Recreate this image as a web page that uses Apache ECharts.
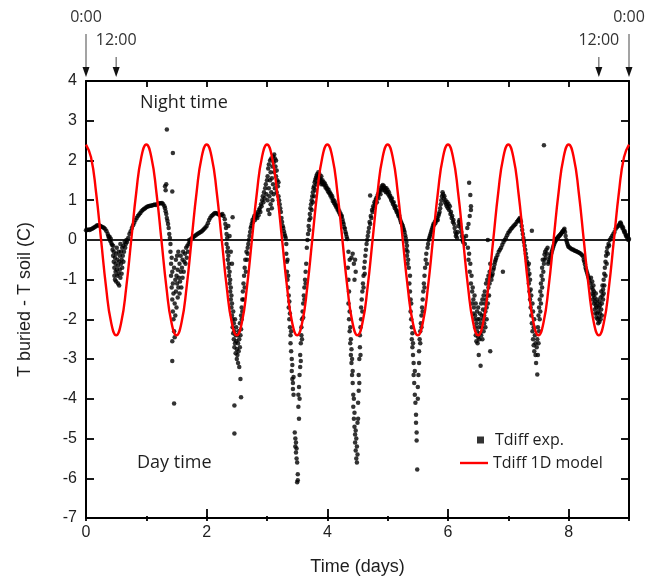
<!DOCTYPE html>
<html>
<head>
<meta charset="utf-8">
<script src="https://cdn.jsdelivr.net/npm/echarts@6/dist/echarts.min.js"></script>
<style>
  html, body { margin: 0; padding: 0; background: #ffffff; }
  #chart { width: 645px; height: 581px; }
</style>
</head>
<body>
<div id="chart"></div>
<script>
// Measured temperature difference (buried minus soil), [time in days, deg C]
const expDay0 = [
  [0.00,0.24],[0.02,0.25],[0.04,0.26],[0.06,0.25],[0.08,0.27],[0.10,0.28],[0.12,0.30],[0.14,0.32],[0.16,0.34],[0.18,0.36],
  [0.20,0.37],[0.22,0.36],[0.24,0.35],[0.26,0.33],[0.28,0.32],[0.30,0.30],[0.32,0.27],[0.34,0.22],[0.36,0.15],[0.37,0.10],
  [0.38,0.05],[0.39,0.08],[0.40,-0.02],[0.41,0.03],[0.42,-0.08],[0.43,-0.12],
  [0.44,-0.25],[0.45,-0.4],[0.45,-0.15],[0.46,-0.55],[0.46,-0.3],[0.47,-0.7],[0.47,-0.9],[0.48,-0.45],[0.48,-1.0],[0.49,-0.8],
  [0.49,-0.6],[0.50,-0.35],[0.50,-1.05],[0.51,-0.75],[0.51,-0.2],[0.52,-0.9],[0.52,-0.5],[0.53,-1.1],[0.53,-0.65],[0.54,-0.3],
  [0.54,-0.85],[0.55,-1.15],[0.55,-0.55],[0.56,-0.75],[0.56,-0.4],[0.57,-0.95],[0.57,-0.1],[0.58,-0.6],[0.58,-0.3],[0.59,-0.85],
  [0.59,-0.5],[0.60,-0.2],[0.60,-0.7],[0.61,-0.4],[0.62,-0.15],[0.62,-0.55],[0.63,-0.3],[0.64,-0.05],[0.65,-0.2],[0.66,-0.1],
  [0.67,0.0],[0.68,-0.05],
  [0.70,0.05],[0.72,0.15],[0.74,0.22],[0.76,0.3],[0.78,0.37],[0.80,0.43],[0.82,0.5],[0.84,0.55],[0.86,0.6],[0.88,0.64],
  [0.90,0.68],[0.92,0.72],[0.94,0.75],[0.96,0.78],[0.98,0.8]
];
const expDay1 = [
  [1.00,0.82],[1.02,0.84],[1.04,0.85],[1.06,0.86],[1.08,0.86],[1.10,0.87],[1.12,0.88],[1.14,0.89],[1.16,0.88],[1.18,0.9],
  [1.20,0.91],[1.22,0.92],[1.24,0.92],[1.26,0.93],[1.28,0.9],[1.30,0.85],
  [1.31,0.8],[1.32,0.72],[1.33,0.65],[1.34,0.55],[1.35,0.48],[1.36,0.4],[1.37,0.3],[1.38,0.15],[1.39,0.05],[1.40,-0.1],
  [1.34,2.78],[1.44,2.19],[1.31,1.35],[1.32,1.25],[1.33,1.4],[1.43,1.22],
  [1.40,-0.3],[1.41,-0.6],[1.41,-0.9],[1.42,-1.2],[1.42,-0.45],[1.43,-1.5],[1.43,-0.8],[1.44,-1.8],[1.44,-1.1],[1.45,-2.0],
  [1.45,-1.35],[1.46,-2.3],[1.46,-0.7],[1.47,-1.6],[1.47,-2.45],[1.48,-1.0],[1.48,-1.9],[1.49,-0.5],[1.49,-1.3],[1.50,-0.9],
  [1.50,-1.7],[1.51,-1.1],[1.51,-0.4],[1.52,-1.45],[1.52,-0.75],[1.53,-1.2],[1.53,-0.3],[1.54,-0.95],[1.55,-1.35],[1.55,-0.6],
  [1.56,-1.05],[1.57,-0.8],[1.57,-0.4],[1.58,-1.2],[1.59,-0.7],[1.60,-0.95],[1.60,-0.5],[1.61,-0.3],[1.62,-0.8],[1.63,-0.55],
  [1.64,-0.35],[1.65,-0.6],[1.66,-0.2],[1.67,-0.45],[1.68,-0.15],[1.69,-0.3],[1.70,-0.1],[1.71,0.0],[1.72,-0.05],
  [1.43,-2.55],[1.43,-3.05],[1.46,-4.12],
  [1.74,0.02],[1.76,0.05],[1.78,0.07],[1.80,0.1],[1.82,0.12],[1.84,0.14],[1.86,0.16],[1.88,0.18],[1.90,0.2],[1.92,0.22],
  [1.94,0.25],[1.96,0.28],[1.98,0.31]
];
const expDay2 = [
  [2.00,0.35],[2.02,0.42],[2.04,0.5],[2.06,0.56],[2.08,0.6],[2.10,0.63],[2.12,0.66],[2.14,0.68],[2.16,0.67],[2.18,0.66],
  [2.20,0.64],[2.22,0.62],[2.24,0.63],[2.26,0.65],[2.28,0.6],[2.30,0.52],[2.31,0.4],[2.32,0.3],[2.33,0.15],[2.43,0.57],
  [2.36,0.35],[2.38,0.1],
  [2.33,-0.1],[2.34,-0.3],[2.34,0.05],[2.35,-0.5],[2.35,-0.2],[2.36,-0.7],[2.36,-0.4],[2.37,-0.9],[2.37,-0.6],[2.38,-1.1],
  [2.38,-0.8],[2.39,-1.3],[2.39,-1.0],[2.40,-1.5],[2.40,-1.2],[2.41,-1.7],[2.41,-1.4],[2.42,-1.9],[2.42,-1.6],[2.43,-2.0],
  [2.43,-2.2],[2.44,-1.8],[2.44,-2.35],[2.45,-2.1],[2.45,-2.5],[2.46,-2.3],[2.46,-2.7],[2.47,-2.0],[2.47,-2.6],[2.48,-2.4],
  [2.48,-2.85],[2.49,-2.2],[2.49,-2.55],[2.50,-2.75],[2.50,-3.0],[2.51,-2.4],[2.51,-2.9],[2.52,-2.6],[2.52,-3.1],[2.53,-2.3],
  [2.53,-2.8],[2.54,-2.5],[2.54,-3.2],[2.55,-2.1],[2.55,-2.7],[2.56,-2.4],[2.56,-3.5],[2.57,-1.9],[2.57,-2.25],[2.58,-1.7],
  [2.58,-2.0],[2.59,-1.5],[2.59,-1.8],[2.60,-1.3],[2.61,-1.1],[2.61,-1.5],[2.62,-0.9],[2.63,-1.2],[2.63,-0.7],[2.64,-0.5],
  [2.65,-0.8],[2.66,-0.3],[2.67,-0.5],[2.68,-0.2],[2.69,-0.1],[2.70,0.0],[2.42,-0.6],[2.40,-0.3],[2.68,-0.35],
  [2.57,-3.96],[2.46,-4.17],[2.46,-4.87],
  [2.71,0.1],[2.72,0.2],[2.73,0.3],[2.74,0.35],[2.75,0.42],[2.76,0.5],[2.77,0.45],[2.78,0.55],[2.79,0.6],[2.80,0.5],
  [2.81,0.62],[2.82,0.58],[2.83,0.65],[2.84,0.55],[2.85,0.7],[2.86,0.62],[2.87,0.75],[2.88,0.8],[2.89,0.7],[2.90,0.9],
  [2.91,0.85],[2.92,1.0],[2.93,1.1],[2.94,0.95],[2.95,1.2],[2.96,1.05],[2.97,1.3],[2.98,1.4],[2.99,1.15]
];
const expDay3 = [
  [3.00,1.5],[3.01,1.6],[3.01,1.0],[3.02,1.8],[3.02,0.75],[3.03,1.3],[3.03,1.9],[3.04,1.1],[3.04,0.65],[3.05,1.5],
  [3.05,2.0],[3.06,0.9],[3.06,1.7],[3.07,1.2],[3.07,2.05],[3.08,0.8],[3.08,1.55],[3.09,1.85],[3.09,1.0],[3.10,2.1],
  [3.10,1.4],[3.11,1.95],[3.11,1.15],[3.12,2.15],[3.12,1.7],[3.13,2.05],[3.13,1.3],[3.14,1.85],[3.15,2.0],[3.15,1.6],
  [3.16,1.75],[3.16,1.2],[3.17,1.5],[3.18,1.35],[3.19,1.1],[3.19,1.45],
  [3.20,1.0],[3.21,0.9],[3.22,0.8],[3.23,0.7],[3.24,0.55],[3.25,0.45],[3.26,0.35],[3.27,0.3],[3.28,0.22],[3.29,0.15],
  [3.30,0.1],[3.31,0.05],
  [3.32,-0.1],[3.32,-0.35],[3.33,-0.55],[3.33,-0.8],[3.34,-0.5],[3.34,-1.0],[3.35,-1.2],[3.35,-0.9],[3.36,-1.4],[3.36,-1.7],
  [3.37,-1.55],[3.37,-2.0],[3.38,-2.2],[3.38,-1.85],[3.39,-2.4],[3.39,-2.6],[3.40,-2.3],[3.40,-2.8],[3.41,-3.0],[3.41,-3.3],
  [3.42,-3.5],[3.42,-3.15],[3.43,-3.6],[3.43,-3.75],[3.44,-3.9],[3.44,-3.45],
  [3.46,-4.85],[3.47,-5.0],[3.47,-5.2],[3.48,-5.1],[3.48,-5.35],[3.49,-5.5],[3.49,-5.25],[3.50,-5.6],[3.51,-6.05],[3.51,-5.9],
  [3.50,-6.1],
  [3.52,-4.2],[3.52,-3.9],[3.53,-4.5],[3.53,-3.7],[3.54,-3.4],[3.54,-4.0],[3.55,-3.2],[3.55,-2.9],[3.56,-2.6],[3.56,-3.05],
  [3.57,-2.4],[3.57,-2.2],[3.58,-2.0],[3.58,-2.5],[3.59,-1.8],[3.60,-1.6],[3.60,-1.95],[3.61,-1.4],[3.62,-1.2],[3.62,-1.5],
  [3.63,-1.0],[3.64,-0.8],[3.64,-1.1],[3.65,-0.6],
  [3.66,-0.2],[3.67,0.0],[3.68,0.15],[3.69,0.35],[3.70,0.5],[3.70,0.25],[3.71,0.65],[3.72,0.8],[3.72,0.55],[3.73,0.9],
  [3.74,1.0],[3.74,0.75],[3.75,1.1],[3.76,1.2],[3.76,0.95],[3.77,1.3],[3.78,1.35],[3.78,1.1],[3.79,1.45],[3.80,1.5],
  [3.80,1.25],[3.81,1.55],[3.82,1.6],[3.82,1.4],[3.83,1.65],[3.84,1.55],[3.85,1.7],[3.86,1.6],[3.86,1.45],[3.87,1.65],
  [3.88,1.55],[3.89,1.5],[3.90,1.4],[3.90,1.6],[3.91,1.45],
  [3.92,1.5],[3.93,1.4],[3.94,1.45],[3.95,1.38],[3.96,1.42],[3.97,1.32],[3.98,1.36],[3.99,1.28]
];
const expDay4 = [
  [4.00,1.3],[4.01,1.22],[4.02,1.26],[4.03,1.18],[4.04,1.2],[4.05,1.12],[4.06,1.15],[4.07,1.06],[4.08,1.1],[4.09,0.98],
  [4.10,1.02],[4.11,0.93],[4.12,0.97],[4.13,0.88],[4.14,0.9],[4.15,0.82],[4.16,0.85],[4.17,0.76],[4.18,0.78],[4.19,0.7],
  [4.20,0.72],[4.21,0.64],[4.22,0.66],[4.23,0.58],[4.24,0.6],[4.25,0.52],[4.26,0.45],[4.27,0.4],[4.28,0.32],[4.29,0.28],
  [4.30,0.2],[4.31,0.15],[4.32,0.08],[4.33,0.02],
  [4.34,-0.7],[4.35,-1.0],[4.36,-1.3],[4.35,-0.3],[4.37,-0.5],[4.40,-0.45],[4.42,-0.35],[4.44,-0.6],[4.46,-0.5],[4.47,-0.8],
  [4.45,-1.0],
  [4.35,-1.6],[4.36,-2.0],[4.37,-2.3],[4.37,-1.8],[4.38,-2.6],[4.38,-2.2],[4.39,-2.9],[4.39,-2.5],[4.40,-3.1],[4.40,-2.75],
  [4.41,-3.4],[4.41,-3.0],[4.42,-3.6],[4.42,-3.3],[4.43,-3.9],[4.43,-4.2],[4.44,-4.5],[4.44,-4.0],[4.45,-4.7],[4.45,-4.35],
  [4.46,-4.9],[4.46,-5.1],[4.47,-4.8],[4.47,-5.3],[4.48,-5.5],[4.48,-5.0],[4.49,-5.6],[4.49,-5.2],[4.50,-4.6],[4.50,-5.4],
  [4.51,-4.1],[4.51,-4.5],[4.52,-3.8],[4.52,-3.4],[4.53,-3.0],[4.53,-3.6],[4.54,-2.7],[4.54,-2.4],[4.55,-2.2],[4.55,-2.9],
  [4.56,-2.0],[4.56,-1.7],[4.57,-1.5],[4.58,-1.3],[4.58,-1.8],[4.59,-1.1],[4.60,-0.9],[4.60,-1.2],[4.61,-0.7],[4.62,-0.55],
  [4.62,-0.85],[4.63,-0.4],[4.64,-0.25],[4.65,-0.1],[4.66,0.0],
  [4.67,0.1],[4.68,0.2],[4.69,0.3],[4.70,0.45],[4.71,0.4],[4.71,1.12],[4.72,0.6],[4.73,0.55],[4.74,0.75],[4.75,0.7],
  [4.76,0.85],[4.77,0.8],[4.78,0.95],[4.79,0.9],[4.80,1.0],[4.81,1.05],[4.82,0.95],[4.83,1.1],[4.84,1.15],[4.85,1.05],
  [4.86,1.2],[4.87,1.25],[4.88,1.15],[4.89,1.3],[4.90,1.35],[4.91,1.25],[4.92,1.38],[4.93,1.3],[4.94,1.35],[4.95,1.25],
  [4.96,1.3],[4.97,1.2],[4.98,1.3],[4.99,1.2]
];
const expDay5 = [
  [5.00,1.25],[5.01,1.15],[5.02,1.2],[5.03,1.1],[5.04,1.12],[5.05,1.05],[5.06,1.0],[5.07,1.05],[5.08,0.95],[5.09,0.9],
  [5.10,0.95],[5.11,0.85],[5.12,0.8],[5.13,0.85],[5.14,0.75],[5.15,0.7],[5.16,0.72],[5.17,0.65],[5.18,0.6],[5.19,0.62],
  [5.20,0.55],[5.21,0.5],[5.22,0.45],[5.23,0.42],[5.24,0.38],[5.25,0.35],[5.26,0.3],[5.27,0.25],[5.28,0.2],[5.29,0.12],
  [5.30,0.05],
  [5.31,-0.05],[5.31,-0.25],[5.32,-0.15],[5.32,-0.4],[5.33,-0.3],[5.33,-0.6],[5.34,-0.5],[5.35,-0.7],[5.36,-1.1],[5.37,-1.3],
  [5.37,-0.9],[5.38,-1.5],[5.38,-1.8],[5.39,-2.0],[5.39,-1.6],[5.40,-2.2],[5.40,-2.5],[5.41,-2.35],[5.41,-2.7],[5.42,-2.9],
  [5.42,-2.6],[5.43,-3.1],[5.43,-3.4],[5.44,-3.6],[5.45,-3.9],[5.45,-3.3],[5.46,-4.1],[5.47,-4.4],[5.47,-4.6],[5.48,-4.85],
  [5.48,-5.05],[5.49,-5.78],[5.50,-4.0],[5.50,-3.7],[5.51,-3.4],[5.52,-3.1],[5.52,-2.8],[5.53,-2.5],[5.54,-2.3],[5.54,-2.6],
  [5.55,-2.1],[5.56,-1.9],[5.56,-2.2],[5.57,-1.7],[5.58,-1.5],[5.58,-1.8],[5.59,-1.3],[5.60,-1.1],[5.61,-0.9],[5.61,-1.2],
  [5.62,-0.7],[5.63,-0.5],[5.64,-0.35],[5.65,-0.6],[5.66,-0.2],[5.67,-0.1],[5.68,0.0],
  [5.69,0.05],[5.70,0.1],[5.71,0.15],[5.72,0.2],[5.73,0.25],[5.74,0.3],[5.75,0.35],[5.76,0.4],[5.77,0.38],[5.78,0.45],
  [5.79,0.42],[5.80,0.5],[5.81,0.48],[5.82,0.55],[5.83,0.5],[5.84,0.6],[5.85,0.65],[5.86,0.7],[5.87,0.8],[5.88,0.9],
  [5.89,1.0],[5.90,1.1],[5.91,1.2],[5.92,1.15],[5.93,1.05],[5.94,1.1],[5.95,0.95],[5.96,1.0],[5.97,0.9],[5.98,0.85],
  [5.99,0.95]
];
const expDay6 = [
  [6.00,0.8],[6.01,0.9],[6.02,0.75],[6.03,0.85],[6.04,0.65],[6.05,0.7],[6.06,0.55],[6.07,0.6],[6.08,0.45],[6.09,0.5],
  [6.10,0.4],[6.11,0.3],[6.12,0.2],[6.13,0.1],[6.14,0.15],[6.15,0.05],[6.16,0.2],[6.17,0.35],[6.18,0.45],[6.19,0.5],
  [6.20,0.4],[6.21,0.3],[6.22,0.2],[6.23,0.1],[6.24,0.0],[6.25,-0.05],
  [6.35,1.44],[6.37,1.13],[6.38,0.85],[6.38,0.75],[6.36,0.6],[6.34,0.4],[6.32,0.3],[6.30,0.1],[6.28,-0.1],[6.26,0.05],
  [6.33,-0.2],[6.34,-0.5],[6.35,-0.35],[6.36,-0.8],[6.37,-0.6],[6.38,-1.1],[6.39,-0.9],[6.40,-1.3],[6.40,-1.6],[6.41,-1.2],
  [6.42,-1.5],[6.42,-1.85],[6.43,-1.7],[6.44,-2.0],[6.44,-1.4],[6.45,-2.2],[6.45,-1.9],[6.46,-2.4],[6.46,-1.6],[6.47,-2.1],
  [6.47,-2.55],[6.48,-2.3],[6.48,-1.8],[6.49,-2.0],[6.49,-2.6],[6.50,-2.45],[6.50,-1.7],[6.51,-2.9],[6.51,-2.2],[6.52,-2.0],
  [6.52,-2.5],[6.53,-1.85],[6.53,-2.35],[6.54,-3.17],[6.54,-2.1],[6.55,-2.4],[6.55,-1.6],[6.56,-2.2],[6.56,-1.9],[6.57,-2.5],
  [6.57,-1.5],[6.58,-2.0],[6.58,-1.75],[6.59,-2.3],[6.59,-1.4],[6.60,-1.9],[6.60,-2.1],[6.61,-1.6],[6.61,-1.3],[6.62,-1.8],
  [6.62,-2.2],[6.63,-1.5],[6.63,-1.1],[6.64,-1.7],[6.64,-2.0],[6.65,-1.4],[6.65,-1.0],[6.66,-1.6],[6.67,-1.2],[6.67,-0.9],
  [6.68,-1.4],[6.69,-0.8],[6.69,-1.1],[6.70,-2.8],[6.70,-0.6],[6.71,-0.9],[6.66,0.0],
  [6.72,-1.0],[6.73,-0.9],[6.74,-0.85],[6.75,-0.75],[6.76,-0.7],[6.77,-0.62],[6.78,-0.55],[6.79,-0.5],[6.80,-0.45],[6.82,-0.38],
  [6.84,-0.3],[6.86,-0.25],[6.88,-0.2],[6.90,-0.12],[6.91,-0.8],[6.92,-0.05],[6.94,0.0],[6.96,0.05],[6.98,0.12]
];
const expDay7 = [
  [7.00,0.18],[7.02,0.22],[7.04,0.27],[7.06,0.3],[7.08,0.34],[7.10,0.37],[7.12,0.4],[7.14,0.45],[7.16,0.48],[7.17,0.5],
  [7.18,0.52],[7.19,0.55],[7.20,0.5],
  [7.21,0.45],[7.22,0.35],[7.23,0.25],[7.24,0.15],[7.25,0.05],[7.26,-0.05],[7.27,-0.15],[7.28,-0.25],[7.29,-0.35],[7.30,-0.45],
  [7.31,-0.55],[7.32,-0.65],[7.33,-0.75],
  [7.33,-0.9],[7.34,-1.1],[7.34,-0.6],[7.35,-1.3],[7.35,-0.85],[7.36,-1.5],[7.36,-1.0],[7.37,-1.7],[7.37,-1.25],[7.38,-1.9],
  [7.38,-1.4],[7.39,0.23],[7.39,-2.1],[7.40,-1.6],[7.40,-2.3],[7.41,-1.8],[7.41,-2.5],[7.42,-2.2],[7.42,-2.65],[7.43,-2.0],
  [7.43,-2.8],[7.44,-2.4],[7.45,-2.9],[7.45,-2.6],[7.46,-3.1],[7.47,-2.7],[7.48,-3.39],[7.48,-2.5],[7.49,-2.9],[7.49,-2.2],
  [7.50,-2.6],[7.50,-1.9],[7.51,-2.3],[7.51,-1.7],[7.52,-2.0],[7.52,-1.5],[7.53,-1.8],[7.53,-1.3],[7.54,-1.6],[7.54,-1.1],
  [7.55,-1.4],[7.55,-0.9],[7.56,-1.2],[7.56,-0.7],[7.57,-1.0],[7.57,-0.5],[7.58,-0.8],[7.59,-0.6],[7.59,2.38],[7.60,-0.37],
  [7.60,-0.5],[7.61,-0.3],[7.62,-0.45],[7.63,-0.25],[7.64,-0.35],[7.65,-0.2],
  [7.66,-0.6],[7.67,-0.55],[7.68,-0.5],[7.69,-0.45],[7.70,-0.4],[7.71,-0.35],[7.72,-0.3],[7.73,-0.25],[7.74,-0.2],[7.75,-0.15],
  [7.76,-0.1],[7.77,-0.06],[7.78,-0.03],[7.79,0.0],[7.80,0.02],[7.81,0.04],[7.82,0.06],[7.83,0.08],[7.84,0.1],[7.85,0.11],
  [7.86,0.13],[7.87,0.15],[7.88,0.17],[7.89,0.19],[7.90,0.21],[7.91,0.23],[7.92,0.25],[7.93,0.28],[7.94,0.2],[7.95,0.1],
  [7.96,0.0],[7.97,-0.05],[7.98,-0.1],[7.99,-0.15]
];
const expDay8 = [
  [8.00,-0.18],[8.02,-0.2],[8.04,-0.22],[8.06,-0.24],[8.08,-0.25],[8.10,-0.27],[8.12,-0.28],[8.14,-0.3],[8.16,-0.31],[8.18,-0.33],
  [8.20,-0.35],[8.22,-0.38],[8.24,-0.42],[8.25,-0.5],[8.26,-0.55],[8.27,-0.62],[8.28,-0.7],[8.29,-0.75],[8.30,-0.8],[8.31,-0.85],
  [8.32,-0.9],[8.33,-0.95],[8.34,-1.0],
  [8.36,-1.1],[8.37,-0.95],[8.38,-1.2],[8.39,-1.05],[8.39,-1.35],[8.40,-1.25],[8.40,-1.5],[8.41,-1.15],[8.41,-1.4],[8.42,-1.6],
  [8.42,-1.3],[8.43,-1.75],[8.43,-1.45],[8.44,-1.55],[8.44,-1.85],[8.45,-1.65],[8.45,-1.35],[8.46,-1.95],[8.46,-1.7],[8.47,-1.5],
  [8.47,-1.85],[8.48,-2.0],[8.48,-1.6],[8.49,-1.8],[8.49,-2.1],[8.50,-1.7],[8.50,-1.95],[8.51,-2.06],[8.51,-1.55],[8.52,-1.85],
  [8.52,-1.65],[8.53,-2.0],[8.53,-1.45],[8.54,-1.75],[8.54,-1.3],[8.55,-1.6],[8.55,-1.9],[8.56,-1.4],[8.56,-1.15],[8.57,-1.5],
  [8.57,-1.25],[8.58,-1.0],[8.58,-1.35],[8.59,-0.85],[8.59,-1.15],[8.60,-0.7],[8.61,-0.9],[8.61,-0.55],[8.62,-0.4],[8.63,-0.6],
  [8.63,-0.3],[8.64,-0.2],[8.65,-0.35],[8.66,-0.1],[8.67,-0.15],
  [8.68,0.0],[8.70,0.05],[8.72,0.1],[8.74,0.15],[8.76,0.2],[8.78,0.28],[8.80,0.32],[8.82,0.35],[8.84,0.38],[8.85,0.42],
  [8.86,0.44],[8.87,0.4],[8.88,0.35],[8.89,0.3],[8.90,0.32],[8.91,0.25],[8.92,0.2],[8.93,0.22],[8.94,0.15],[8.95,0.1],
  [8.96,0.12],[8.97,0.05],[8.98,0.08],[8.99,0.0],[9.00,0.02]
];

// 1D model, sampled every two hours (1/12 day)
const modelStepDays = 1 / 12;
const modelValues = [
  2.4, 2.08, 1.2, 0, -1.2, -2.08, -2.4, -2.08, -1.2, 0, 1.2, 2.08,
  2.4, 2.08, 1.2, 0, -1.2, -2.08, -2.4, -2.08, -1.2, 0, 1.2, 2.08,
  2.4, 2.08, 1.2, 0, -1.2, -2.08, -2.4, -2.08, -1.2, 0, 1.2, 2.08,
  2.4, 2.08, 1.2, 0, -1.2, -2.08, -2.4, -2.08, -1.2, 0, 1.2, 2.08,
  2.4, 2.08, 1.2, 0, -1.2, -2.08, -2.4, -2.08, -1.2, 0, 1.2, 2.08,
  2.4, 2.08, 1.2, 0, -1.2, -2.08, -2.4, -2.08, -1.2, 0, 1.2, 2.08,
  2.4, 2.08, 1.2, 0, -1.2, -2.08, -2.4, -2.08, -1.2, 0, 1.2, 2.08,
  2.4, 2.08, 1.2, 0, -1.2, -2.08, -2.4, -2.08, -1.2, 0, 1.2, 2.08,
  2.4, 2.08, 1.2, 0, -1.2, -2.08, -2.4, -2.08, -1.2, 0, 1.2, 2.08,
  2.4
];

// Clock-time markers above the plot
const clockMarks = [
  { t: 0, text: '0:00' },
  { t: 0.5, text: '12:00' },
  { t: 8.5, text: '12:00' },
  { t: 9, text: '0:00' }
];

const xRange = [0, 9];
const yRange = [-7, 4];

const expPoints = [].concat(expDay0, expDay1, expDay2, expDay3, expDay4, expDay5, expDay6, expDay7, expDay8);
const modelPoints = modelValues.map((v, i) => [i * modelStepDays, v]);

const axisFont = 'Liberation Sans, Arial, sans-serif';
const noteFont = 'Open Sans, Noto Sans, sans-serif';
const ink = '#1e1e1e';
const modelRed = '#ff0000';

const frameLine = { show: true, onZero: false, lineStyle: { color: '#000', width: 2 } };
const tickStyle = { color: '#000', width: 1.8 };

const chart = echarts.init(document.getElementById('chart'), null, { renderer: 'canvas' });

const gridBox = { left: 86, top: 81, right: 16, bottom: 60 };

chart.setOption({
  backgroundColor: '#ffffff',
  animation: false,
  grid: [Object.assign({}, gridBox), Object.assign({}, gridBox)],
  xAxis: [
    {
      type: 'value', gridIndex: 0, position: 'bottom',
      min: xRange[0], max: xRange[1], interval: 2,
      axisLine: frameLine,
      axisTick: { show: true, inside: true, length: 9, lineStyle: tickStyle },
      axisLabel: { show: true, showMaxLabel: false, margin: 7, fontSize: 16, color: ink, fontFamily: axisFont },
      splitLine: { show: false },
      name: 'Time (days)', nameLocation: 'middle', nameGap: 40,
      nameTextStyle: { fontSize: 18, color: ink, fontFamily: axisFont }
    },
    {
      type: 'value', gridIndex: 0, position: 'top',
      min: xRange[0], max: xRange[1], interval: 1,
      axisLine: frameLine,
      axisTick: { show: true, inside: true, length: 6, lineStyle: tickStyle },
      axisLabel: { show: false },
      splitLine: { show: false }
    },
    {
      type: 'value', gridIndex: 1, position: 'bottom',
      min: xRange[0], max: xRange[1], interval: 1,
      axisLine: { show: false, onZero: false },
      axisTick: { show: true, inside: true, length: 5, lineStyle: tickStyle },
      axisLabel: { show: false },
      splitLine: { show: false }
    }
  ],
  yAxis: [
    {
      type: 'value', gridIndex: 0, position: 'left',
      min: yRange[0], max: yRange[1], interval: 1,
      axisLine: frameLine,
      axisTick: { show: true, inside: true, length: 8, lineStyle: tickStyle },
      axisLabel: { margin: 9, fontSize: 16, color: ink, fontFamily: axisFont },
      splitLine: { show: false },
      name: 'T buried - T soil (C)', nameLocation: 'middle', nameGap: 52, nameRotate: 90,
      nameTextStyle: { fontSize: 18, color: ink, fontFamily: axisFont }
    },
    {
      type: 'value', gridIndex: 0, position: 'right',
      min: yRange[0], max: yRange[1], interval: 1,
      axisLine: frameLine,
      axisTick: { show: true, inside: true, length: 8, lineStyle: tickStyle },
      axisLabel: { show: false },
      splitLine: { show: false }
    },
    {
      type: 'value', gridIndex: 1, show: false,
      min: yRange[0], max: yRange[1]
    }
  ],
  legend: [
    {
      data: [{ name: 'Tdiff exp.', icon: 'rect' }],
      orient: 'vertical', left: 477, top: 430, padding: 0,
      itemWidth: 7, itemHeight: 7,
      textStyle: { fontSize: 16, color: ink, fontFamily: noteFont, lineHeight: 20, padding: [0, 0, 0, 6] },
      selectedMode: false
    },
    {
      data: [{ name: 'Tdiff 1D model', icon: 'rect' }],
      orient: 'vertical', left: 460, top: 453, padding: 0,
      itemWidth: 28, itemHeight: 2.4,
      itemStyle: { color: modelRed },
      textStyle: { fontSize: 16, color: ink, fontFamily: noteFont, lineHeight: 20 },
      selectedMode: false
    }
  ],
  series: [
    {
      name: 'zero', type: 'line', xAxisIndex: 0, yAxisIndex: 0,
      data: [[xRange[0], 0], [xRange[1], 0]],
      symbol: 'none', silent: true, z: 1,
      lineStyle: { color: '#222', width: 2 }
    },
    {
      name: 'Tdiff exp.', type: 'scatter', xAxisIndex: 0, yAxisIndex: 0,
      data: expPoints, symbol: 'circle', symbolSize: 4.5, z: 2,
      itemStyle: { color: '#000' }, silent: true
    },
    {
      name: 'Tdiff 1D model', type: 'line', xAxisIndex: 0, yAxisIndex: 0,
      data: modelPoints, symbol: 'none', smooth: 0.5, z: 3,
      itemStyle: { color: modelRed },
      lineStyle: { color: modelRed, width: 2.4 }, silent: true
    }
  ]
});

// Annotations: day/night labels and clock-time arrows above the frame
const graphics = [
  { type: 'text', left: 140, top: 94, style: { text: 'Night time', font: '18px ' + noteFont, fill: ink } },
  { type: 'text', left: 137, top: 454, style: { text: 'Day time', font: '18px ' + noteFont, fill: ink } }
];
const plotTop = chart.convertToPixel({ yAxisIndex: 0 }, yRange[1]);
clockMarks.forEach(m => {
  const x = chart.convertToPixel({ xAxisIndex: 0 }, m.t);
  const isMidnight = m.text === '0:00';
  const labelY = isMidnight ? 17 : 40;
  const lineTop = isMidnight ? 34 : 57;
  const tipY = plotTop - 4;
  graphics.push({
    type: 'line', silent: true,
    shape: { x1: x, y1: lineTop, x2: x, y2: tipY - 8 },
    style: { stroke: '#666', lineWidth: 1.2 }
  });
  graphics.push({
    type: 'polygon', silent: true,
    shape: { points: [[x - 3.5, tipY - 10], [x + 3.5, tipY - 10], [x, tipY]] },
    style: { fill: '#111' }
  });
  graphics.push({
    type: 'text', silent: true, x: x, y: labelY,
    style: { text: m.text, font: '16px ' + noteFont, fill: '#333', align: 'center', verticalAlign: 'middle' }
  });
});
chart.setOption({ graphic: graphics });
</script>
</body>
</html>
